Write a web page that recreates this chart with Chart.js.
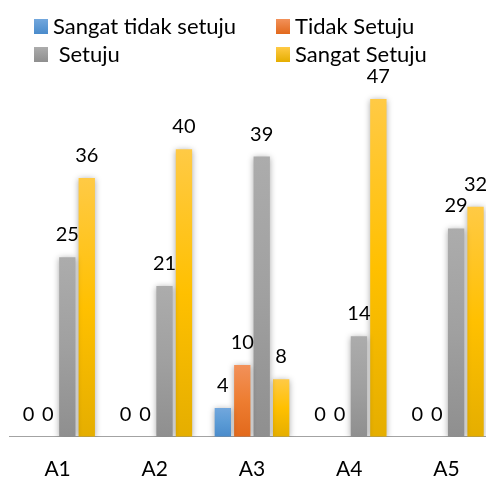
<!DOCTYPE html>
<html>
<head>
<meta charset="utf-8">
<script src="https://cdn.jsdelivr.net/npm/chart.js@4"></script>
<style>
  html, body { margin: 0; padding: 0; background: #fff; overflow: hidden; }
  #wrap { position: relative; width: 496px; height: 477px; }
  #legend { position: absolute; left: 0; top: 0; font-family: Lato, sans-serif; font-size: 22px; color: #000; }
  .item { position: absolute; white-space: pre; line-height: 22px; }
  .sw { position: absolute; width: 14px; height: 15px; }
</style>
</head>
<body>
<div id="wrap">
  <canvas id="c" width="496" height="477"></canvas>
  <div id="legend"></div>
</div>
<script>
// Survey answers per statement A1..A5
const categories = ['A1', 'A2', 'A3', 'A4', 'A5'];
const seriesNames = ['Sangat tidak setuju', 'Tidak Setuju', ' Setuju', 'Sangat Setuju'];
const sangatTidakSetuju = [0, 0, 4, 0, 0];
const tidakSetuju = [0, 0, 10, 0, 0];
const setuju = [25, 21, 39, 14, 29];
const sangatSetuju = [36, 40, 8, 47, 32];

// top / middle / bottom colours of each bar gradient
const gradTop = ['#72a7dd', '#f2915a', '#acacac', '#ffca45'];
const gradMid = ['#5b9bd5', '#ed7d31', '#a0a0a0', '#ffc000'];
const gradBot = ['#4a8bcb', '#e2691c', '#8f8f8f', '#e5ae00'];

function barGradient(i) {
  return ctx => {
    const chart = ctx.chart;
    const y = chart.scales.y;
    if (!y || ctx.raw == null) return gradMid[i];
    const top = y.getPixelForValue(ctx.raw);
    const bot = y.getPixelForValue(0);
    if (!isFinite(top) || bot - top < 1) return gradMid[i];
    const g = chart.ctx.createLinearGradient(0, top, 0, bot);
    g.addColorStop(0, gradTop[i]);
    g.addColorStop(0.5, gradMid[i]);
    g.addColorStop(1, gradBot[i]);
    return g;
  };
}

const shadowPlugin = {
  id: 'barShadow',
  beforeDatasetsDraw(chart) {
    const c = chart.ctx;
    c.save();
    c.shadowColor = 'rgba(0,0,0,0.35)';
    c.shadowBlur = 6;
    c.shadowOffsetX = 0;
    c.shadowOffsetY = 1;
  },
  afterDatasetsDraw(chart) {
    chart.ctx.restore();
  }
};

const valueLabels = {
  id: 'valueLabels',
  afterDatasetsDraw(chart) {
    const c = chart.ctx;
    c.save();
    c.font = '20px Lato, sans-serif';
    c.fillStyle = '#000';
    c.textAlign = 'center';
    c.textBaseline = 'alphabetic';
    chart.data.datasets.forEach((ds, di) => {
      chart.getDatasetMeta(di).data.forEach((bar, i) => {
        c.fillText(String(ds.data[i]), bar.x, bar.y - 16);
      });
    });
    c.restore();
  }
};

const allSeries = [sangatTidakSetuju, tidakSetuju, setuju, sangatSetuju];

new Chart(document.getElementById('c'), {
  type: 'bar',
  data: {
    labels: categories,
    datasets: allSeries.map((d, i) => ({
      label: seriesNames[i],
      data: d,
      backgroundColor: barGradient(i),
      borderWidth: 0,
      categoryPercentage: 0.8,
      barPercentage: 0.84,
    })),
  },
  options: {
    responsive: false,
    animation: false,
    layout: { padding: { top: 77.5, left: 9, right: 1, bottom: -24 } },
    plugins: { legend: { display: false }, tooltip: { enabled: false } },
    scales: {
      x: {
        grid: { display: false, drawTicks: false },
        border: { display: true, color: '#a3a3a3', width: 1 },
        ticks: { color: '#000', padding: 32, font: { family: 'Lato', size: 21, lineHeight: 0.01 } },
      },
      y: { display: false, min: 0, max: 50 },
    },
  },
  plugins: [shadowPlugin, valueLabels],
});

// legend in two columns, like the original
const legendPos = [[34, 19], [276, 19], [34, 47], [276, 47]];
const legend = document.getElementById('legend');
seriesNames.forEach((name, i) => {
  const sw = document.createElement('div');
  sw.className = 'sw';
  sw.style.left = legendPos[i][0] + 'px';
  sw.style.top = legendPos[i][1] + 'px';
  sw.style.background = `linear-gradient(${gradTop[i]}, ${gradBot[i]})`;
  legend.appendChild(sw);
  const t = document.createElement('div');
  t.className = 'item';
  t.textContent = name;
  t.style.left = (legendPos[i][0] + 19) + 'px';
  t.style.top = (legendPos[i][1] - 4.5) + 'px';
  legend.appendChild(t);
});
</script>
</body>
</html>
